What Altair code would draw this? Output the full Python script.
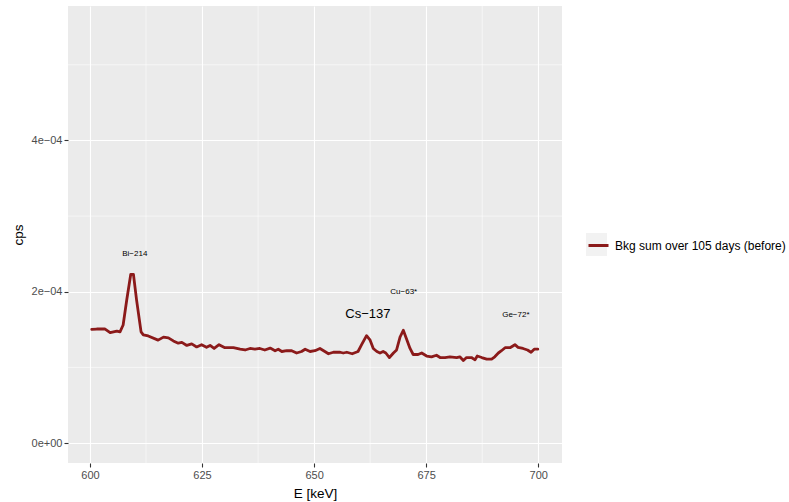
import altair as alt
import pandas as pd

# ---- data ----
energy = [600.4, 601.5, 603.3, 604.5, 606.0, 606.7, 607.4, 608.2, 609.1, 609.7,
          610.4, 611.4, 611.9, 613.0, 615.2, 616.4, 617.5, 618.6, 619.7, 620.5,
          621.6, 622.7, 623.8, 624.9, 626.0, 626.8, 627.7, 628.8, 630.1, 632.0,
          633.5, 634.6, 635.7, 636.8, 637.9, 639.0, 640.2, 641.3, 642.0, 642.8,
          643.9, 645.0, 646.1, 647.2, 648.0, 649.1, 650.2, 651.3, 652.4, 653.2,
          654.3, 655.8, 656.5, 657.3, 658.5, 659.8, 660.6, 661.7, 662.5, 663.2,
          664.0, 664.7, 665.4, 666.0, 666.8, 667.7, 668.4, 669.2, 669.9, 670.6,
          671.4, 672.1, 673.2, 674.0, 675.1, 676.2, 677.3, 678.1, 679.2, 680.3,
          681.8, 682.5, 683.3, 684.0, 685.1, 685.9, 686.4, 687.4, 688.5, 689.6,
          690.3, 691.1, 691.8, 692.6, 693.7, 694.8, 695.5, 696.6, 697.6, 698.4,
          699.1, 699.9]
cps_e4 = [1.503, 1.507, 1.51, 1.46, 1.48, 1.47, 1.56, 1.89, 2.23, 2.23,
          1.89, 1.47, 1.43, 1.415, 1.36, 1.40, 1.39, 1.35, 1.32, 1.33,
          1.29, 1.31, 1.27, 1.30, 1.265, 1.29, 1.25, 1.30, 1.26, 1.26,
          1.24, 1.23, 1.25, 1.24, 1.25, 1.23, 1.255, 1.22, 1.24, 1.21,
          1.22, 1.22, 1.19, 1.21, 1.24, 1.21, 1.22, 1.25, 1.21, 1.18,
          1.20, 1.20, 1.19, 1.20, 1.18, 1.21, 1.30, 1.42, 1.36, 1.25,
          1.21, 1.19, 1.21, 1.19, 1.13, 1.19, 1.23, 1.405, 1.49, 1.38,
          1.25, 1.17, 1.17, 1.19, 1.15, 1.14, 1.16, 1.13, 1.13, 1.14,
          1.13, 1.14, 1.09, 1.13, 1.13, 1.10, 1.15, 1.13, 1.11, 1.11,
          1.14, 1.19, 1.22, 1.26, 1.26, 1.30, 1.265, 1.25, 1.23, 1.20,
          1.24, 1.24]
series_name = "Bkg sum over 105 days (before)"

ann_labels = ["Bi\u2212214", "Cs\u2212137", "Cu\u221263*", "Ge\u221272*"]
ann_energy = [610.0, 662.0, 670.0, 695.0]
ann_cps_e4 = [2.50, 1.705, 2.0, 1.69]
ann_size = [8, 13, 8, 8]

x_ticks = [600, 625, 650, 675, 700]
x_minor = [612.5, 637.5, 662.5, 687.5]
y_ticks = [0, 2e-4, 4e-4]
y_tick_labels = ["0e+00", "2e\u221204", "4e\u221204"]
y_minor = [1e-4, 3e-4, 5e-4]

x_domain = [595.1, 705.3]
y_domain = [-2.64e-5, 5.777e-4]

FONT = "Liberation Sans"
LINE_COLOR = "#8B1A1A"

df = pd.DataFrame({"E": energy, "cps": [v * 1e-4 for v in cps_e4], "series": series_name})
ann = pd.DataFrame({"E": ann_energy, "cps": [v * 1e-4 for v in ann_cps_e4],
                    "label": ann_labels, "size": ann_size})
xminor_df = pd.DataFrame({"E": x_minor})
yminor_df = pd.DataFrame({"cps": y_minor})

label_expr = " : ".join(
    [f"datum.value < {(y_ticks[i] + y_ticks[i+1]) / 2} ? '{y_tick_labels[i]}'" for i in range(len(y_ticks) - 1)]
    + [f"'{y_tick_labels[-1]}'"]
)

xscale = alt.Scale(domain=x_domain, nice=False, zero=False)
yscale = alt.Scale(domain=y_domain, nice=False, zero=False)

xaxis = alt.Axis(values=x_ticks, title="E [keV]", grid=True, gridColor="white", gridWidth=1.1,
                 domain=False, tickColor="#333333", tickSize=4, tickWidth=1.1,
                 labelColor="#4D4D4D", labelFontSize=11, labelFont=FONT, labelPadding=2,
                 titleFont=FONT, titleFontSize=13.5, titleFontWeight="normal", titleColor="black",
                 titlePadding=6)
yaxis = alt.Axis(values=y_ticks, title="cps", grid=True, gridColor="white", gridWidth=1.1,
                 domain=False, tickColor="#333333", tickSize=4, tickWidth=1.1,
                 labelColor="#4D4D4D", labelFontSize=11, labelFont=FONT, labelPadding=2,
                 labelExpr=label_expr,
                 titleFont=FONT, titleFontSize=13.5, titleFontWeight="normal", titleColor="black",
                 titlePadding=6)

minor_x = alt.Chart(xminor_df).mark_rule(color="white", strokeWidth=0.55).encode(
    x=alt.X("E:Q", scale=xscale, axis=xaxis))
minor_y = alt.Chart(yminor_df).mark_rule(color="white", strokeWidth=0.55).encode(
    y=alt.Y("cps:Q", scale=yscale, axis=yaxis))

line = alt.Chart(df).mark_line(strokeWidth=2.8, strokeJoin="round", strokeCap="round").encode(
    x=alt.X("E:Q", scale=xscale, axis=xaxis),
    y=alt.Y("cps:Q", scale=yscale, axis=yaxis),
    color=alt.Color("series:N",
                    scale=alt.Scale(domain=[series_name], range=[LINE_COLOR]),
                    legend=alt.Legend(title=None, orient="none", legendX=519, legendY=228,
                                      symbolType="stroke", symbolSize=400, symbolStrokeWidth=3,
                                      labelFont=FONT, labelFontSize=12, labelColor="black",
                                      labelOffset=5, labelLimit=0, padding=0)),
)

key_bg = alt.Chart(pd.DataFrame({"k": [0]})).mark_rect(color="#F2F2F2").encode(
    x=alt.value(518), x2=alt.value(539), y=alt.value(227), y2=alt.value(250))

texts = alt.Chart(ann).mark_text(font=FONT, color="black").encode(
    x=alt.X("E:Q", scale=xscale),
    y=alt.Y("cps:Q", scale=yscale),
    text="label:N",
    size=alt.Size("size:Q", scale=None, legend=None),
)

chart = alt.layer(minor_x, minor_y, key_bg, line, texts).properties(
    width=494, height=457,
    background="white",
    autosize=alt.AutoSizeParams(type="none"),
    padding={"left": 68, "top": 6, "right": 227, "bottom": 39},
).configure_view(fill="#EBEBEB", strokeWidth=0)

chart.save("out.html", embed_options={"renderer": "svg", "actions": False})
